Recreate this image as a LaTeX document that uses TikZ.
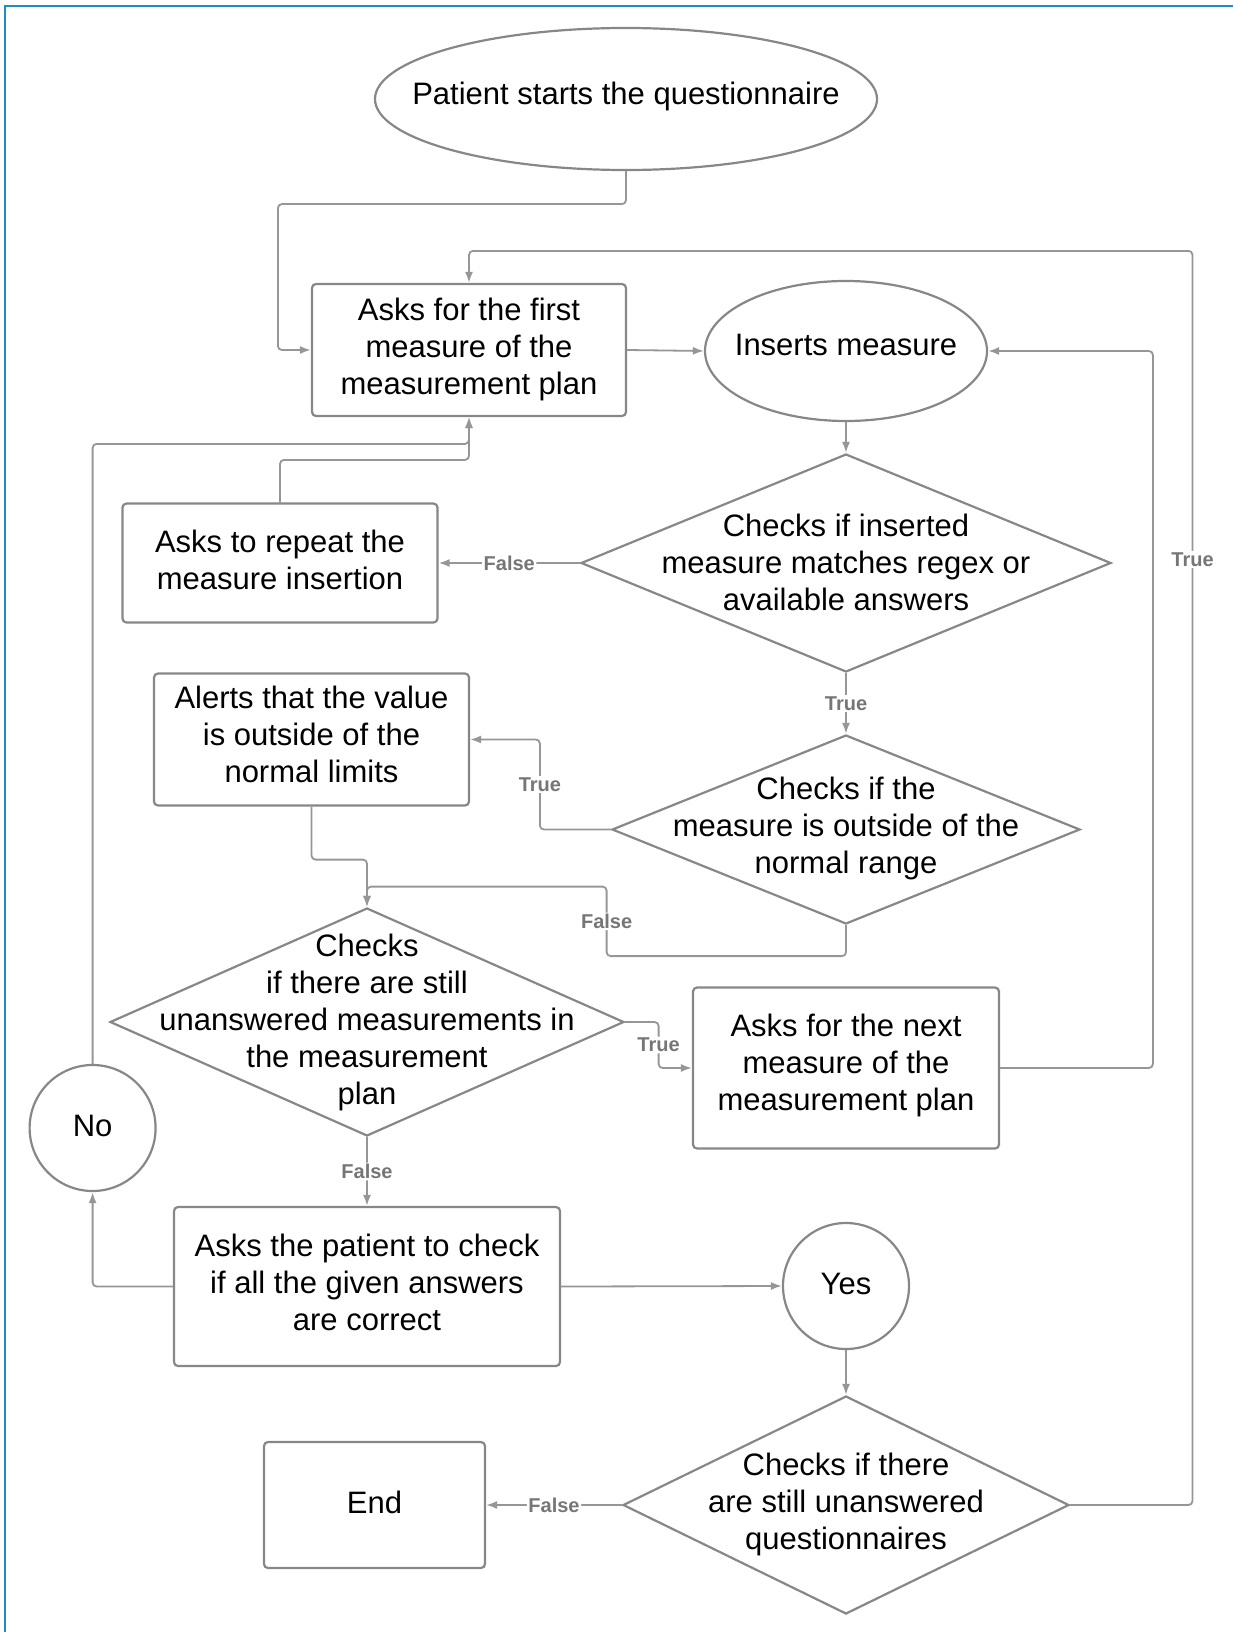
\documentclass[tikz,border=0pt]{standalone}
\usepackage{fontspec}
\setmainfont{Liberation Sans}
\usetikzlibrary{shapes.geometric,arrows.meta,calc}
\definecolor{frameblue}{RGB}{33,139,200}
\definecolor{shapegray}{RGB}{135,135,135}
\definecolor{linegray}{RGB}{150,150,150}
\definecolor{labelgray}{RGB}{118,118,118}
\newcommand{\flowtext}{\fontsize{31}{37}\selectfont}
\newcommand{\lbltext}{\fontsize{20}{24}\selectfont\bfseries}
\begin{document}
\begin{tikzpicture}[x=1pt,y=-1pt,
  box/.style={draw=shapegray,line width=2.2pt,rounded corners=4pt,inner sep=0pt},
  oval/.style={ellipse,draw=shapegray,line width=2.2pt,inner sep=0pt},
  dia/.style={diamond,draw=shapegray,line width=2.2pt,inner sep=0pt},
  circ/.style={circle,draw=shapegray,line width=2.2pt,inner sep=0pt,minimum size=126pt},
  txt/.style={align=center,inner sep=0pt,font=\flowtext},
  conn/.style={draw=linegray,line width=1.8pt,rounded corners=4pt},
  arr/.style={conn,-{Latex[length=11pt,width=8pt]}},
  lbl/.style={fill=white,text=labelgray,font=\lbltext,inner sep=1.5pt}]
\useasboundingbox (0,0) rectangle (1233,1632);
\draw[frameblue,line width=2.5pt] (5,1632) -- (5,6) -- (1233,6);

% shapes
\node[oval,minimum width=502pt,minimum height=142pt] (A) at (626,99) {};
\node[box,minimum width=314pt,minimum height=132pt] (B) at (469,350) {};
\node[oval,minimum width=282pt,minimum height=140pt] (C) at (846,351) {};
\node[dia,minimum width=530pt,minimum height=218pt] (D) at (846,563) {};
\node[box,minimum width=315pt,minimum height=119pt] (E) at (280,563) {};
\node[box,minimum width=315pt,minimum height=132pt] (F) at (311.5,739.5) {};
\node[dia,minimum width=468pt,minimum height=189pt] (G) at (846,829.5) {};
\node[dia,minimum width=514pt,minimum height=228pt] (H) at (367,1022) {};
\node[box,minimum width=306pt,minimum height=161pt] (I) at (846,1068) {};
\node[circ] (J) at (92.6,1128) {};
\node[box,minimum width=386pt,minimum height=159pt] (K) at (367,1286.5) {};
\node[circ] (L) at (846,1286) {};
\node[dia,minimum width=446pt,minimum height=218pt] (M) at (846,1505) {};
\node[box,minimum width=221pt,minimum height=126pt] (N) at (374.5,1505) {};

% texts
\node[txt] (At) at ($(A)+(0,-3)$) {Patient starts the questionnaire};
\node[txt] (Bt) at ($(B)+(0,-1)$) {Asks for the first\\measure of the\\measurement plan};
\node[txt] (Ct) at ($(C)+(0,-6)$) {Inserts measure};
\node[txt] (Dt) at ($(D)+(0,-1)$) {Checks if inserted\\measure matches regex or\\available answers};
\node[txt] (Et) at ($(E)+(0,-3)$) {Asks to repeat the\\measure insertion};
\node[txt] (Ft) at ($(F)+(0,-5)$) {Alerts that the value\\is outside of the\\normal limits};
\node[txt] (Gt) at ($(G)+(0,-1)$) {Checks if the\\measure is outside of the\\normal range};
\node[txt] (Ht) at (H) {Checks\\if there are still\\unanswered measurements in\\the measurement\\plan};
\node[txt] (It) at ($(I)+(0,-3)$) {Asks for the next\\measure of the\\measurement plan};
\node[txt] (Jt) at ($(J)+(0,-2)$) {No};
\node[txt] (Kt) at ($(K)+(0,-4)$) {Asks the patient to check\\if all the given answers\\are correct};
\node[txt] (Lt) at ($(L)+(0,-2)$) {Yes};
\node[txt] (Mt) at ($(M)+(0,-1)$) {Checks if there\\are still unanswered\\questionnaires};
\node[txt] (Nt) at ($(N)+(0,-3)$) {End};

% connectors
\draw[arr] (A.south) -- ++(0,33) -| ($(B.west)+(-33,0)$) -- (B.west);
\draw[arr] (B.east) -- (C.west);
\draw[arr] (C.south) -- (D.north);
\draw[arr] (D.west) -- node[lbl]{False} (E.east);
\draw[arr] (E.north) -- ++(0,-42.5) -| (B.south);
\draw[arr] (J.north) -- ++(0,-620) -| (B.south);
\draw[arr] (D.south) -- node[lbl]{True} (G.north);
\draw[arr] (G.west) -- ++(-71,0) |- node[lbl,pos=0.25]{True} (F.east);
\draw[arr] (F.south) -- ++(0,53) -| (H.north);
\draw[arr] (G.south) -- ++(0,31) -| node[lbl,pos=0.75]{False} ($(G.south)+(-239.4,-38.5)$) -| (H.north);
\draw[arr] (H.east) -- ++(33.5,0) |- node[lbl,pos=0.25]{True} (I.west);
\draw[arr] (I.east) -- ++(152.8,0) |- (C.east);
\draw[arr] (H.south) -- node[lbl]{False} (K.north);
\draw[arr] (K.west) -| (J.south);
\draw[arr] (K.east) -- (L.west);
\draw[arr] (L.south) -- (M.north);
\draw[arr] (M.west) -- node[lbl]{False} (N.east);
\draw[arr] (M.east) -- ++(122.4,0) |- node[lbl,pos=0.377]{True} ($(B.north)+(0,-32)$) -- (B.north);
\end{tikzpicture}
\end{document}
